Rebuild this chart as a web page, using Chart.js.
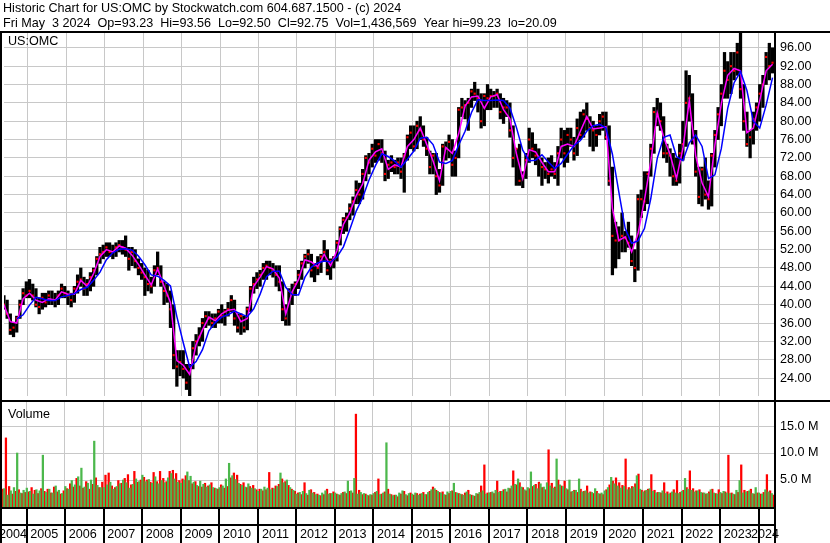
<!DOCTYPE html>
<html lang="en">
<head>
    <meta charset="UTF-8">
    <title>Historic Chart US:OMC</title>
    <script src="https://cdn.jsdelivr.net/npm/chart.js"></script>
    <style>
        html, body { margin: 0; padding: 0; background: #fff; }
        canvas { display: block; }
    </style>
</head>
<body>

    <canvas id="pricechart" width="830" height="400"></canvas>
    <canvas id="volumechart" width="830" height="143"></canvas>

    <script>
        const titleLine1 = "Historic Chart for US:OMC by Stockwatch.com 604.687.1500 - (c) 2024";
        const titleLine2 = "Fri May  3 2024  Op=93.23  Hi=93.56  Lo=92.50  Cl=92.75  Vol=1,436,569  Year hi=99.23  lo=20.09";
        const symbol = "US:OMC";
        const volumeLabel = "Volume";

        const years = [2004, 2005, 2006, 2007, 2008, 2009, 2010, 2011, 2012, 2013, 2014,
                       2015, 2016, 2017, 2018, 2019, 2020, 2021, 2022, 2023, 2024];
        const priceTicks = [24, 28, 32, 36, 40, 44, 48, 52, 56, 60, 64, 68, 72, 76, 80, 84, 88, 92, 96];
        const volumeTicks = [5, 10, 15];

        // monthly bars, May 2004 .. May 2024
        const highs = [
            42, 41, 38, 36, 37.5, 41, 43.5, 45,
            45.5, 44.5, 43.5, 41.5, 42.5, 42.5, 43, 43, 42.5, 43, 44.5, 44,
            43, 42.5, 44, 46.5, 48, 46, 45.5, 47, 48, 50.5, 52.5, 53,
            53.5, 53.5, 53, 53.5, 54, 54, 55, 52.5, 52.5, 52, 50, 49,
            48, 47.5, 46, 48.5, 51.5, 48.5, 45, 44.5, 43, 40, 30, 30,
            30, 27, 27, 32, 33.5, 35, 37, 38.5, 38.5, 38, 38, 39,
            40, 39, 40.5, 42, 41, 38, 38, 37.5, 39.5, 44, 46, 47,
            47.5, 49, 49.5, 49.5, 49, 48.5, 48.5, 45, 40, 43.5, 44.5, 45,
            47.5, 49.5, 51, 52, 51, 49, 50.5, 51, 54, 52, 50, 50.5,
            54, 57, 59, 60, 62, 63.5, 67, 66.5, 69.5, 72.5, 73, 75,
            76, 76, 76, 73.5, 71.5, 72.5, 71.5, 72, 72, 73, 77, 79,
            79, 80, 81, 79, 76.5, 73.5, 73, 73, 69.5, 75, 75.5, 77,
            76, 73.5, 83, 85, 84.5, 85, 87, 88.5, 87, 86, 86, 88,
            87, 86.5, 87, 86, 85, 84.5, 84, 79, 74, 75, 69, 73,
            78.5, 77.5, 75, 74, 72, 71, 72, 72.5, 71, 74.5, 78.5, 78,
            78.5, 78.5, 76.5, 80.5, 82, 82.5, 84, 81, 80, 79, 81.5, 82,
            82, 79, 70, 58, 57, 60, 56, 58, 55, 52, 64, 65,
            69, 69, 75, 83, 85, 84, 81, 75, 74, 73, 72, 75,
            80, 91, 90, 86, 78, 70, 70, 72, 67, 73, 78, 83,
            88, 95, 93, 95, 95, 97, 99.23, 88, 82, 78, 82, 84,
            88, 90, 95, 97, 96
        ];
        const lows = [
            39, 37, 33.5, 33, 34, 37, 40, 41.5,
            41.5, 41, 39.5, 38, 39, 39.5, 40, 40, 39.5, 40, 41.5, 41.5,
            40, 39.5, 40.5, 42.5, 44, 42, 42, 43, 44, 46.5, 49, 50,
            50.5, 50.5, 50, 50.5, 51.5, 51, 50.5, 47.5, 48.5, 48, 46.5, 45.5,
            42, 43, 42.5, 44, 46.5, 44, 40, 40.5, 35, 26, 22.2, 24.5,
            24, 21.5, 20.09, 26, 29, 31, 32, 35, 35.5, 35, 35, 36,
            36, 35.5, 37.5, 38.5, 35.5, 34, 33.5, 34, 34.5, 38.5, 42.5, 43.5,
            44, 45.5, 45.5, 46.5, 46, 44, 43, 36.5, 35.5, 35.5, 40, 42,
            43.5, 45.5, 48, 49, 46, 45, 46.5, 47, 49.5, 46.5, 45.5, 48,
            49.5, 53, 55.5, 56, 58.5, 59.5, 62, 62, 63, 67, 68.5, 70,
            71, 71.5, 71, 67, 67.5, 69, 68.5, 68.5, 67.5, 64.5, 71.5, 74,
            73.5, 74, 76, 74.5, 72.5, 68.5, 68.5, 64, 64.5, 66, 71.5, 72,
            68, 68, 72, 81, 80.5, 78, 83, 84.5, 82, 78.5, 79, 82.5,
            82.5, 83, 83, 80.5, 79.5, 81, 76.5, 70, 66, 66, 65.5, 67.5,
            71, 72, 70.5, 68, 66, 67.5, 66.5, 68, 67.5, 66, 72, 70,
            71, 74.5, 71.5, 72.5, 76, 76.5, 78, 74.5, 73.5, 74.5, 77, 78,
            76, 66, 46.5, 48, 50, 51.5, 51.5, 52.5, 48.5, 45, 47.5, 59,
            60.5, 62, 68, 73, 79, 78, 72, 71, 68, 66, 66, 66.5,
            71.5, 74.5, 80, 75, 68, 62, 61.5, 63, 60.8, 61.5, 70, 76,
            79, 85, 85, 86, 89, 90, 85, 78, 74.5, 72, 75, 78,
            80, 83, 88, 89, 90.5
        ];
        const closes = [
            40, 38, 34.5, 35, 37, 40, 42.5, 42,
            43, 42, 40, 39.5, 41.5, 40.5, 42, 41, 41, 42, 43.5, 42.5,
            42, 41, 43.5, 45, 45.5, 43.5, 44.5, 46, 47.5, 50, 51, 51.5,
            52.5, 51.5, 51.5, 52.5, 53, 52.5, 52, 50, 51.5, 49.5, 48, 47,
            46, 44.5, 44, 47.5, 48, 45, 43, 42, 39, 29, 26.5, 27.5,
            26, 23, 26.5, 30.5, 32, 33, 36, 37.5, 37, 36, 37, 38.5,
            37.5, 38.5, 39, 41, 37, 35, 37.5, 35, 39, 43.5, 44.5, 45.5,
            46.5, 48, 48.5, 48, 47.5, 46.5, 45, 39, 37, 43, 42.5, 44.5,
            46.5, 49, 50.5, 51, 47.5, 48.5, 48, 50.5, 51.5, 47.5, 49.5, 50,
            53.5, 56.5, 58.5, 59, 61, 62.5, 65, 64, 68.5, 72, 71, 74,
            72.5, 75, 73, 68.5, 70.5, 71, 70, 71, 69, 72.5, 76.5, 77.5,
            74.5, 79, 78, 76, 74, 70, 72.5, 68, 66, 74.5, 74, 75.5,
            70.5, 72, 82.5, 83, 83.5, 84, 86.5, 86, 85, 80, 85.5, 85,
            85.5, 85.5, 86, 82, 83, 83, 78, 72, 74, 67, 68, 71.5,
            76, 74, 72.5, 72, 70, 69.5, 68.5, 69.5, 68.5, 73, 76, 73,
            77, 76, 73, 78.5, 77, 81.5, 80.5, 78.5, 78, 77, 80, 81,
            76.5, 67, 55, 54, 54, 55, 54.5, 53.5, 49.5, 48, 63, 63,
            62.5, 68.5, 74, 82, 81.5, 80, 73, 73, 72.5, 68, 67, 73,
            75, 84, 85, 76, 69, 63.5, 69.5, 64, 63, 72.5, 77, 81.5,
            86, 91, 89, 92, 91, 95, 87, 80, 75, 76.5, 80.5, 83,
            86, 88, 94, 92, 92.75
        ];

        // averages read every second month
        const maFast = [
            40, 36.3, 36, 41.3,
            42.5, 41, 40.5, 41.3, 41, 42.8,
            42.3, 42.3, 45.3, 44, 46.8, 50.5,
            52, 51.5, 52.8, 52.3, 50.8, 48.8,
            46.5, 44.3, 47.8, 44, 40.5, 27.8,
            26.8, 24.8, 31.3, 34.5, 37.3, 36.5,
            38, 38.8, 39, 36.3, 37, 44,
            46, 48.3, 47.8, 45.8, 38, 42.8,
            45.5, 49.8, 49.3, 48.3, 51, 48.5,
            51.8, 57.5, 60, 63.8, 66.3, 71.5,
            73.3, 74, 69.5, 70.5, 70, 74.5,
            76, 78.5, 75, 71.3, 67, 74.3,
            73, 77.3, 83.3, 85.3, 85.5, 82.8,
            85.3, 85.8, 82.5, 80.5, 73, 67.5,
            73.8, 73.3, 71, 69, 69, 74.5,
            75, 74.5, 77.8, 81, 78.3, 78.5,
            78.8, 61, 54, 54.8, 51.5, 55.5,
            62.8, 71.3, 81.8, 76.5, 72.8, 67.5,
            74, 84.5, 72.5, 66.5, 63.5, 74.8,
            83.8, 90, 91.5, 91, 77.5, 78.5,
            84.5, 91, 92.4
        ];
        const maSlow = [
            null, null, 36.9, 37.8,
            39.9, 41.6, 41.3, 40.9, 40.9, 41.7,
            42, 42.4, 43.3, 43.8, 45.3, 47.1,
            49.8, 51.3, 52.1, 52.2, 51.9, 50.6,
            48.7, 46.5, 46.2, 45.3, 44.1, 37.4,
            31.7, 26.4, 27.6, 30.2, 34.3, 36.1,
            37.3, 37.8, 38.6, 38, 37.4, 39.1,
            42.3, 46.1, 47.3, 47.3, 43.8, 42.2,
            42.1, 46, 48.2, 49.1, 49.5, 49.3,
            50.4, 52.6, 56.4, 60.4, 63.3, 67.2,
            70.3, 72.9, 72.3, 71.3, 70, 71.7,
            73.5, 76.3, 76.5, 74.9, 71.1, 70.8,
            71.4, 74.8, 77.8, 81.9, 84.7, 84.5,
            84.5, 84.6, 84.5, 82.9, 78.7, 73.7,
            71.4, 71.5, 72.7, 71.1, 69.7, 70.8,
            72.8, 74.7, 75.8, 77.8, 79, 79.3,
            78.5, 72.8, 64.6, 56.6, 53.4, 53.9,
            56.6, 63.2, 71.9, 76.5, 77, 72.3,
            71.4, 75.3, 77, 74.5, 67.5, 68.3,
            74, 82.8, 88.4, 90.8, 86.7, 80,
            78.5, 83.5, 89.5
        ];

        // volume in millions, up and down sessions per month
        const volUp = [
            2.8, 3.4, 2.2, 3.0, 3.6, 10.0, 2.6, 3.1,
            3.5, 2.9, 2.4, 3.2, 3.0, 9.6, 2.7, 3.3, 2.6, 3.9, 3.1, 2.5,
            3.8, 3.3, 4.9, 4.1, 5.6, 7.2, 3.7, 4.4, 5.0, 12.2, 4.0, 3.6,
            3.6, 4.1, 4.6, 3.3, 3.8, 4.3, 5.0, 4.5, 3.5, 4.2, 5.2, 4.7,
            5.9, 4.7, 5.1, 4.4, 5.6, 4.3, 4.9, 4.5, 5.4, 6.2, 5.2, 4.6,
            4.4, 5.0, 6.5, 5.7, 4.6, 4.0, 4.8, 4.2, 3.7, 4.1, 3.6, 3.4,
            3.6, 3.9, 5.2, 8.1, 5.8, 5.1, 4.4, 4.0, 3.7, 4.3, 3.5, 3.4,
            2.9, 3.3, 3.7, 3.5, 3.2, 3.4, 3.8, 6.3, 4.5, 5.0, 3.6, 3.1,
            2.4, 2.7, 2.9, 2.5, 3.1, 2.6, 2.3, 2.2, 2.6, 3.0, 2.4, 2.5,
            2.6, 2.3, 2.5, 2.8, 4.8, 3.0, 5.3, 2.4, 2.7, 2.5, 2.2, 2.3,
            2.5, 2.9, 2.3, 2.6, 11.9, 2.4, 2.1, 2.2, 2.6, 3.0, 2.3, 2.5,
            2.4, 2.6, 2.2, 2.5, 2.3, 2.7, 3.2, 3.4, 2.9, 2.6, 2.3, 2.8,
            2.9, 4.4, 2.6, 2.4, 2.2, 2.8, 2.3, 2.1, 2.5, 2.7, 3.0, 2.4,
            2.6, 2.8, 3.1, 2.7, 2.9, 3.3, 3.5, 3.9, 4.2, 5.2, 3.7, 3.2,
            3.6, 6.5, 4.0, 3.4, 4.3, 3.7, 4.5, 3.9, 3.5, 8.9, 4.1, 3.8,
            3.4, 5.0, 2.9, 3.1, 5.2, 2.8, 3.0, 2.6, 2.7, 3.4, 2.5, 2.6,
            3.0, 3.6, 5.5, 4.3, 3.9, 3.5, 3.8, 3.2, 3.4, 3.7, 5.8, 3.3,
            2.8, 3.1, 3.4, 2.9, 2.6, 2.7, 3.0, 2.5, 2.4, 2.8, 2.6, 2.5,
            2.9, 5.3, 3.3, 3.1, 2.8, 3.0, 2.7, 2.6, 2.5, 3.2, 2.6, 2.4,
            2.7, 2.9, 2.6, 2.5, 2.4, 3.1, 4.9, 2.6, 2.8, 3.0, 2.5, 3.6,
            2.6, 2.4, 3.2, 2.8, 2.5
        ];
        const volDown = [
            3.3, 12.8, 3.8, 2.4, 2.9, 3.2, 2.5, 2.7,
            2.8, 3.6, 3.1, 2.5, 3.4, 2.9, 3.3, 2.6, 3.7, 2.8, 2.4, 3.0,
            3.4, 4.3, 3.7, 5.3, 3.9, 3.5, 4.7, 3.3, 4.2, 5.4, 3.6, 4.6,
            5.9, 6.3, 3.9, 3.6, 4.9, 4.4, 5.3, 6.0, 4.1, 6.6, 4.6, 5.0,
            5.5, 5.0, 4.6, 6.4, 4.7, 6.6, 5.3, 4.7, 6.6, 6.8, 6.2, 4.9,
            5.2, 5.8, 4.9, 4.3, 4.7, 3.8, 3.7, 4.4, 3.9, 4.5, 3.5, 3.3,
            4.1, 3.5, 3.8, 5.4, 6.3, 5.9, 4.2, 4.5, 3.6, 3.8, 4.0, 3.2,
            3.3, 3.0, 3.2, 6.4, 3.5, 3.9, 4.2, 5.2, 4.7, 4.0, 3.3, 2.9,
            2.6, 2.3, 4.5, 2.2, 3.2, 2.7, 2.4, 2.1, 2.3, 3.3, 2.5, 2.8,
            2.4, 2.2, 2.7, 2.5, 2.9, 2.6, 17.2, 3.1, 2.3, 2.4, 2.1, 2.2,
            2.7, 5.2, 2.4, 2.8, 3.3, 2.3, 2.2, 1.9, 2.4, 2.9, 2.1, 2.6,
            2.2, 2.5, 2.4, 2.7, 2.3, 2.9, 3.7, 3.1, 2.7, 2.8, 2.2, 2.5,
            3.0, 2.7, 2.5, 2.3, 2.6, 3.1, 2.2, 2.0, 2.4, 3.9, 7.8, 2.6,
            2.7, 2.5, 4.8, 2.9, 3.2, 2.8, 3.4, 6.7, 4.1, 4.5, 3.6, 3.0,
            3.4, 3.8, 4.2, 4.6, 3.6, 3.2, 10.6, 4.4, 3.7, 5.0, 3.9, 4.8,
            3.2, 2.8, 3.1, 2.7, 3.3, 2.9, 3.9, 2.8, 2.5, 2.9, 2.4, 2.3,
            3.2, 4.1, 4.8, 5.4, 4.5, 4.0, 8.9, 3.6, 3.8, 4.3, 6.1, 3.1,
            3.0, 3.3, 6.0, 3.1, 2.7, 2.6, 4.5, 2.8, 2.6, 3.2, 4.9, 2.7,
            3.1, 3.6, 6.7, 3.4, 3.0, 3.2, 2.6, 2.4, 2.8, 3.3, 2.5, 3.2,
            2.5, 2.8, 9.6, 2.6, 2.3, 2.7, 7.8, 3.1, 2.9, 3.3, 2.4, 2.6,
            2.4, 2.7, 6.0, 3.0, 2.2
        ];

        const firstMonth = 2004 + 4 / 12;   // May 2004
        const monthX = i => firstMonth + (i + 0.5) / 12;
        const xMin = 2004.377;
        const xMax = 2024.413;

        const fontFamily = '"Liberation Sans", Arial, sans-serif';
        const textFont = '12.6px ' + fontFamily;
        const gridColor = '#c8c8c8';

        const noPadding = s => { s.paddingTop = 0; s.paddingBottom = 0; s.paddingLeft = 0; s.paddingRight = 0; };

        function xAxis(height) {
            return {
                type: 'linear',
                min: xMin,
                max: xMax,
                offset: false,
                afterBuildTicks: s => { s.ticks = years.slice(1).map(v => ({value: v})); },
                afterFit: s => { s.height = height; noPadding(s); },
                grid: {color: gridColor, lineWidth: 1, drawTicks: false, offset: false},
                border: {display: false},
                ticks: {display: false}
            };
        }

        function yAxis(min, max, tickValues, format) {
            return {
                type: 'linear',
                position: 'right',
                min: min,
                max: max,
                afterBuildTicks: s => { s.ticks = tickValues.map(v => ({value: v})); },
                afterFit: s => { s.width = 56; noPadding(s); },
                grid: {color: gridColor, lineWidth: 1, drawTicks: false},
                border: {display: false},
                ticks: {padding: 6, color: '#000', font: {family: fontFamily, size: 12.6}, callback: format}
            };
        }

        const whiteBackground = {
            id: 'whiteBackground',
            beforeDraw(chart) {
                const c = chart.ctx;
                c.save();
                c.fillStyle = '#fff';
                c.fillRect(0, 0, chart.width, chart.height);
                c.restore();
            }
        };

        const priceFrame = {
            id: 'priceFrame',
            afterDraw(chart) {
                const c = chart.ctx, a = chart.chartArea;
                c.save();
                c.fillStyle = '#000';
                c.font = textFont;
                c.textBaseline = 'alphabetic';
                c.fillText(titleLine1, 3, 12);
                c.fillText(titleLine2, 3, 27);
                c.fillText(symbol, 8, 45);
                c.fillRect(0, 31, chart.width, 2);
                c.fillRect(0, 31, 2, chart.height - 31);
                c.fillRect(a.right, 31, 2, chart.height - 31);
                c.restore();
            }
        };

        const volumeFrame = {
            id: 'volumeFrame',
            afterDraw(chart) {
                const c = chart.ctx, a = chart.chartArea, xs = chart.scales.x;
                c.save();
                c.fillStyle = '#000';
                c.fillRect(0, 0, chart.width, 2);
                c.fillRect(0, 0, 2, chart.height);
                c.fillRect(a.right, 0, 2, chart.height);
                c.fillRect(0, a.bottom, a.right + 2, 2);
                c.fillRect(0, a.bottom + 17, a.right + 2, 2);
                years.forEach(yr => {
                    const px = xs.getPixelForValue(yr);
                    if (px > a.left && px < a.right) {
                        c.fillRect(Math.round(px - 0.5), a.bottom, 2, chart.height - a.bottom);
                    }
                });
                c.font = textFont;
                c.textBaseline = 'alphabetic';
                c.textAlign = 'center';
                years.forEach(yr => {
                    const l = Math.max(xs.getPixelForValue(yr), a.left);
                    const r = Math.min(xs.getPixelForValue(yr + 1), a.right);
                    if (r > l) c.fillText(String(yr), (l + r) / 2 - 1, chart.height - 5);
                });
                c.textAlign = 'left';
                c.fillText(volumeLabel, 8, 18);
                c.restore();
            }
        };

        const barData = highs.map((h, i) => ({x: monthX(i), y: [lows[i], h]}));
        const closeData = closes.map((v, i) => ({x: monthX(i), y: v}));
        const fastData = maFast.map((v, k) => ({x: monthX(k * 2), y: v}));
        const slowData = maSlow.map((v, k) => ({x: monthX(k * 2), y: v})).filter(p => p.y !== null);

        const priceSetting = {
            type: 'bar',
            data: {
                datasets: [
                    {type: 'line', data: slowData, borderColor: '#0000ff', borderWidth: 1.5,
                     pointRadius: 0, tension: 0, fill: false, order: 0},
                    {type: 'line', data: fastData, borderColor: '#ff00ff', borderWidth: 1.5,
                     pointRadius: 0, tension: 0, fill: false, order: 1},
                    {type: 'line', data: closeData, showLine: false, pointStyle: 'rect',
                     pointRadius: 1.5, pointBackgroundColor: '#ff0000', pointBorderWidth: 0, order: 2},
                    {type: 'bar', data: barData, backgroundColor: '#000', barThickness: 2.6,
                     grouped: false, order: 3}
                ]
            },
            options: {
                responsive: false,
                maintainAspectRatio: false,
                devicePixelRatio: 1,
                animation: false,
                events: [],
                layout: {padding: {top: 33, left: 2, right: 0, bottom: 0}},
                plugins: {legend: {display: false}, tooltip: {enabled: false}},
                scales: {
                    x: xAxis(0),
                    y: yAxis(20.09, 99.23, priceTicks, v => v.toFixed(2))
                }
            },
            plugins: [whiteBackground, priceFrame]
        };

        const volumeSetting = {
            type: 'bar',
            data: {
                datasets: [
                    {data: volUp.map((v, i) => ({x: monthX(i), y: v})), backgroundColor: '#4cb84c',
                     barThickness: 1.6},
                    {data: volDown.map((v, i) => ({x: monthX(i), y: v})), backgroundColor: '#ff0000',
                     barThickness: 1.6}
                ]
            },
            options: {
                responsive: false,
                maintainAspectRatio: false,
                devicePixelRatio: 1,
                animation: false,
                events: [],
                layout: {padding: {top: 2, left: 2, right: 0, bottom: 0}},
                plugins: {legend: {display: false}, tooltip: {enabled: false}},
                scales: {
                    x: xAxis(36),
                    y: yAxis(0, 19.45, volumeTicks, v => v.toFixed(1) + ' M')
                }
            },
            plugins: [whiteBackground, volumeFrame]
        };

        new Chart(document.getElementById('pricechart'), priceSetting);
        new Chart(document.getElementById('volumechart'), volumeSetting);
    </script>
</body>
</html>
